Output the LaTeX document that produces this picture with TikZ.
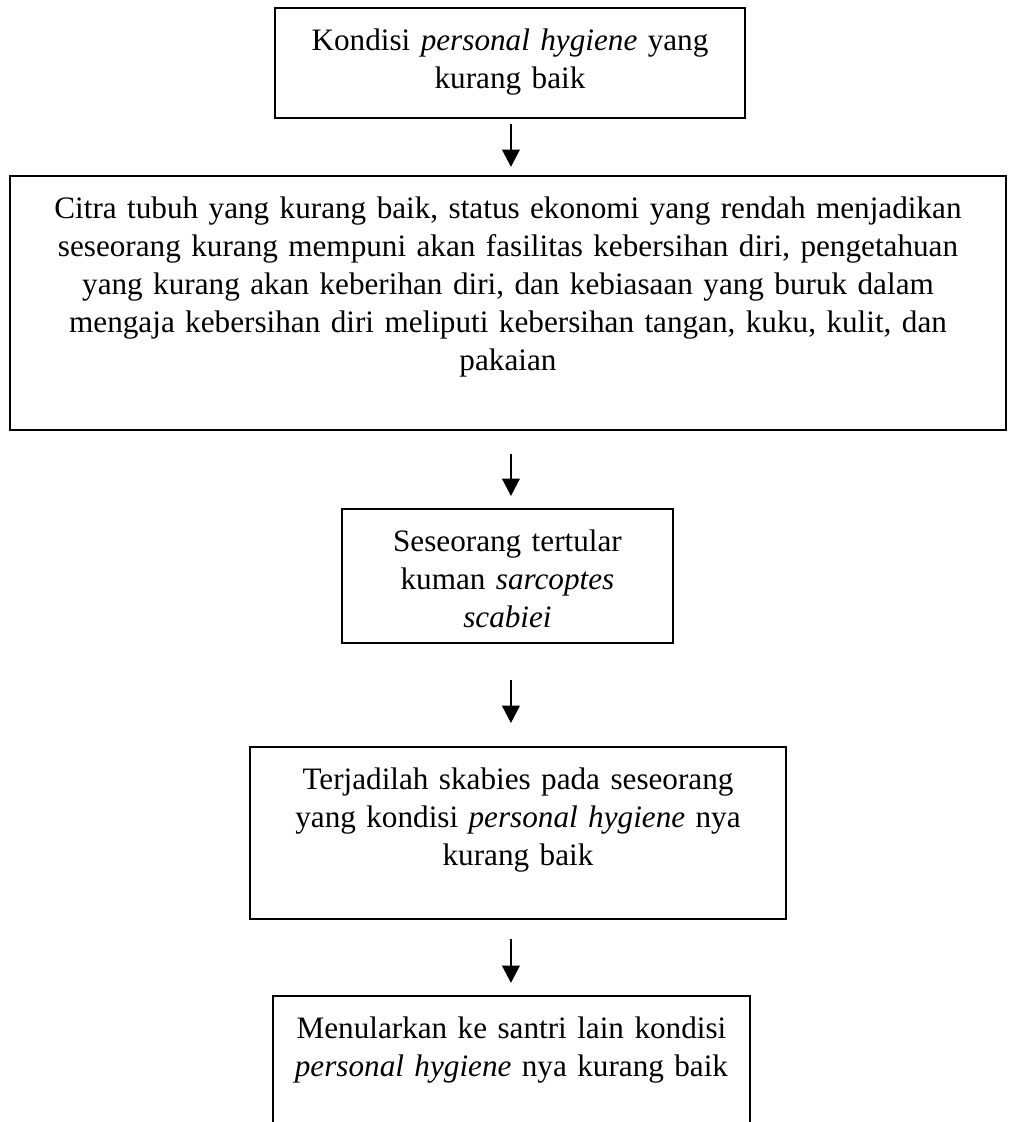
\documentclass[tikz,border=0pt]{standalone}
\usepackage{fontspec}
\setmainfont{Liberation Serif}
\usetikzlibrary{positioning,arrows.meta}
\tikzset{
  blk/.style={draw=black, line width=0.75pt, anchor=north, align=center,
              inner xsep=0pt, inner ysep=0pt, text height=16pt,
              font=\fontsize{11.7}{14.25}\selectfont},
  ar/.style={-{Triangle[width=6.5pt,length=6.5pt]}, line width=1pt, black}
}

\begin{document}
\begin{tikzpicture}[x=1pt, y=-1pt]
\useasboundingbox (0,0) rectangle (379.1,420.75);
\coordinate (mid) at (191.6,0);
% the five stages, top to bottom
\node[blk, text width=176.3pt, text depth=25.25pt] (kondisi) at (191.25,2.6)
  {Kondisi \textit{personal hygiene} yang\\ kurang baik};
\node[blk, text width=373.5pt, text depth=79.25pt] (citra) at (190.5,65.6)
  {Citra tubuh yang kurang baik, status ekonomi yang rendah menjadikan\\
   seseorang kurang mempuni akan fasilitas kebersihan diri, pengetahuan\\
   yang kurang akan keberihan diri, dan kebiasaan yang buruk dalam\\
   mengaja kebersihan diri meliputi kebersihan tangan, kuku, kulit, dan\\
   pakaian};
\node[blk, text width=124.1pt, text depth=34.25pt] (tertular) at (190.3,190.5)
  {Seseorang tertular\\ kuman \textit{sarcoptes}\\ \textit{scabiei}};
\node[blk, text width=201pt, text depth=48.5pt] (skabies) at (194.25,279.75)
  {Terjadilah skabies pada seseorang\\ yang kondisi \textit{personal hygiene} nya\\ kurang baik};
\node[blk, text width=178.9pt, text depth=60pt] (menular) at (191.8,373.1)
  {Menularkan ke santri lain kondisi\\ \textit{personal hygiene} nya kurang baik};
% arrows
\draw[ar, shorten <=1.9pt, shorten >=3pt] (kondisi.south -| mid) -- (citra.north -| mid);
\draw[ar, shorten <=8.6pt, shorten >=4.5pt] (citra.south -| mid) -- (tertular.north -| mid);
\draw[ar, shorten <=13.5pt, shorten >=8.6pt] (tertular.south -| mid) -- (skabies.north -| mid);
\draw[ar, shorten <=7pt, shorten >=4.5pt] (skabies.south -| mid) -- (menular.north -| mid);
\end{tikzpicture}
\end{document}
